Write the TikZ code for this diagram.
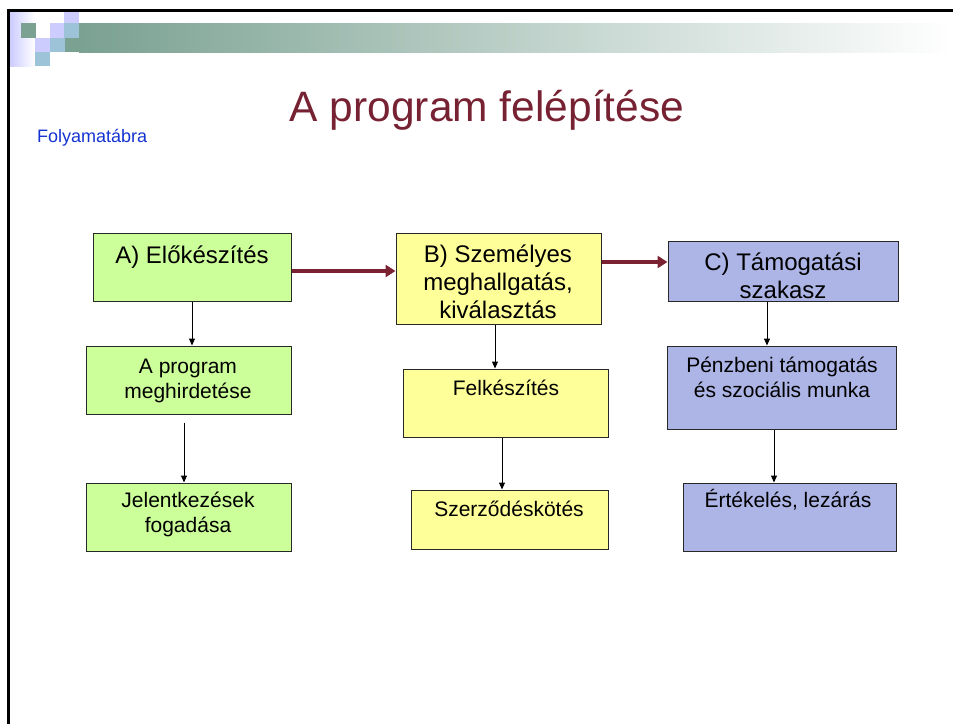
\documentclass[tikz,border=0pt]{standalone}
\usepackage{fontspec}
\setmainfont{Liberation Sans}
\usetikzlibrary{arrows.meta}
\definecolor{teal1}{RGB}{122,161,146}
\definecolor{lav}{RGB}{204,204,255}
\definecolor{lblue}{RGB}{157,195,217}
\definecolor{titlered}{RGB}{119,34,51}
\definecolor{subblue}{RGB}{20,50,210}
\definecolor{fillA}{RGB}{204,255,153}
\definecolor{fillB}{RGB}{255,255,153}
\definecolor{fillC}{RGB}{173,181,230}
\definecolor{boxline}{RGB}{40,40,40}
\definecolor{redarrow}{RGB}{122,34,50}
\begin{document}
\begin{tikzpicture}[x=1pt,y=-1pt,
  box/.style={draw=boxline,line width=1pt,rectangle,inner sep=0pt},
  hdr/.style={inner sep=0pt,anchor=base,align=center,font=\fontsize{24pt}{28pt}\selectfont},
  sub/.style={inner sep=0pt,anchor=base,align=center,font=\fontsize{21pt}{25pt}\selectfont},
  arr/.style={draw=black,line width=1pt,-{Triangle[length=7pt,width=6pt]}},
  redarr/.style={draw=redarrow,line width=4pt,-{Triangle[length=10pt,width=12pt]}}]
\useasboundingbox (0,0) rectangle (953,724);
% decoration
\shade[left color=teal1,right color=white] (79,23) rectangle (953,52);
\fill[teal1] (65,38) rectangle (79,52);
\shade[left color=lav,right color=white] (10,12) rectangle (35,66);
\fill[lav] (64,12) rectangle (79,23);
\fill[teal1] (21,23) rectangle (36,38);
\fill[lav] (50,23) rectangle (64,38);
\fill[lblue] (64,23) rectangle (79,38);
\fill[lav] (35,38) rectangle (50,52);
\fill[lblue] (50,38) rectangle (65,52);
\fill[lblue] (35,52) rectangle (50,66);
% frame
\draw[line width=3pt] (8.5,724) -- (8.5,10.5) -- (953,10.5);
% titles
\node[inner sep=0pt,anchor=base,text=titlered,font=\fontsize{42.5pt}{50pt}\selectfont] (title) at (487,121) {A program felépítése};
\node[inner sep=0pt,anchor=base west,text=subblue,font=\fontsize{18pt}{21pt}\selectfont] (sub) at (37,142) {Folyamatábra};
% boxes
\node[box,fill=fillA,minimum width=198pt,minimum height=68pt] (A) at (192,267) {};
\node[box,fill=fillA,minimum width=205pt,minimum height=68pt] (A1) at (188.5,380) {};
\node[box,fill=fillA,minimum width=205pt,minimum height=68pt] (A2) at (188.5,517) {};
\node[box,fill=fillB,minimum width=205pt,minimum height=91pt] (B) at (498.5,278.5) {};
\node[box,fill=fillB,minimum width=205pt,minimum height=68pt] (B1) at (505.5,403) {};
\node[box,fill=fillB,minimum width=197pt,minimum height=59pt] (B2) at (509.5,519.5) {};
\node[box,fill=fillC,minimum width=230pt,minimum height=60pt] (C) at (783,271) {};
\node[box,fill=fillC,minimum width=229pt,minimum height=83pt] (C1) at (781.5,387.5) {};
\node[box,fill=fillC,minimum width=213pt,minimum height=68pt] (C2) at (789.5,517) {};
% texts (multi-line: anchor at last baseline)
\node[hdr] (tA) at (192,263) {A) Előkészítés};
\node[hdr] (tB) at (498,318) {B) Személyes\\meghallgatás,\\kiválasztás};
\node[hdr] (tC) at (783,298) {C) Támogatási\\szakasz};
\node[sub] (tA1) at (188,398) {A program\\meghirdetése};
\node[sub] (tA2) at (188,532) {Jelentkezések\\fogadása};
\node[sub] (tB1) at (506,395) {Felkészítés};
\node[sub] (tB2) at (509,516) {Szerződéskötés};
\node[sub] (tC1) at (782,397) {Pénzbeni támogatás\\és szociális munka};
\node[sub] (tC2) at (788,507) {Értékelés, lezárás};
% black arrows
\draw[arr] (A.south) -- (A.south |- A1.north);
\draw[arr] ([xshift=-4.5pt,yshift=-8pt]A1.south) -- ([xshift=-4.5pt]A1.south |- A2.north);
\draw[arr] ([xshift=-3.5pt]B.south) -- ([xshift=-3.5pt]B.south |- B1.north);
\draw[arr] ([xshift=-3.5pt]B1.south) -- ([xshift=-3.5pt]B1.south |- B2.north);
\draw[arr] ([xshift=-16pt]C.south) -- ([xshift=-16pt]C.south |- C1.north);
\draw[arr] ([xshift=-7.5pt]C1.south) -- ([xshift=-7.5pt]C1.south |- C2.north);
% red arrows
\draw[redarr] ([yshift=-4pt]A.east) -- ([yshift=-4pt]A.east -| B.west);
\draw[redarr] ([yshift=9pt]C.west -| B.east) -- ([yshift=9pt]C.west);
\end{tikzpicture}
\end{document}
